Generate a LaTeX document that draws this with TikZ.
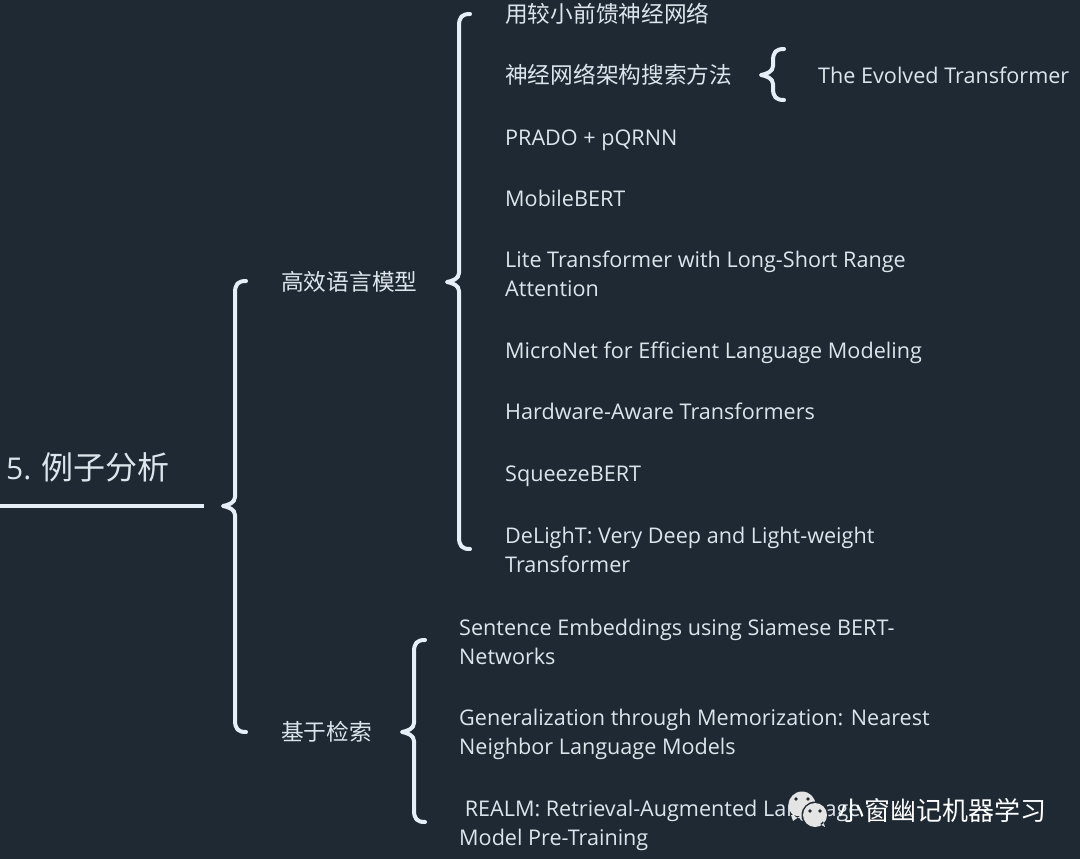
\documentclass[tikz,border=0pt]{standalone}
\usepackage{fontspec}
\setmainfont{Open Sans}
\newfontfamily\cjk{Noto Sans CJK SC}
\usetikzlibrary{calc}
\definecolor{cback}{HTML}{1F2933}
\definecolor{cline}{HTML}{E6EFF7}
\definecolor{ctext}{HTML}{DDE5EC}
\definecolor{cicon}{HTML}{E4E4E4}
\tikzset{
  item/.style={anchor=west, inner sep=0pt, text=ctext, align=left, font=\fontsize{21.6}{29}\selectfont},
  single/.style={item, text height=20pt, text depth=4pt},
  topic/.style={single, font=\fontsize{22.7}{29}\selectfont\cjk},
  curly/.style={line width=4pt, color=cline, line cap=round, line join=round},
}

\begin{document}
\begin{tikzpicture}[x=1pt, y=-1pt]
  \useasboundingbox (0, 0) rectangle (1080, 859);
  \fill [cback] (0, 0) rectangle (1080, 859);

  % root
  \node [item, font=\fontsize{30}{40}\selectfont] (root) at (6, 467) {5. {\fontsize{32}{40}\selectfont\cjk 例子分析}};
  \coordinate (rootl) at (0, 506);
  \coordinate (rootr) at (204, 506);
  \draw [line width=4pt, cline] (rootl) -- (rootr);

  % first level
  \node [topic] (lang) at (281, 282) {高效语言模型};
  \node [topic] (retr) at (281, 732) {基于检索};

  % language models
  \node [topic] (lsmall) at (505, 15) {用较小前馈神经网络};
  \node [topic] (lnas) at (505, 76) {神经网络架构搜索方法};
  \foreach \n/\y/\t in {prado/137/PRADO + pQRNN, mbert/198/MobileBERT, micro/350/MicroNet for Efficient Language Modeling, hat/411/Hardware-Aware Transformers, sbert/473/SqueezeBERT}
    \node [single] (\n) at (505, \y) {\t};
  \node [item] (lite) at (505, 273.5) {Lite Transformer with Long-Short Range\\Attention};
  \node [item] (delight) at (505, 549.5) {DeLighT: Very Deep and Light-weight\\Transformer};

  % evolved transformer
  \node [single] (evolved) at (818, 76) {The Evolved Transformer};

  % retrieval
  \node [item] (siam) at (459, 641.5) {Sentence Embeddings using Siamese BERT-\\Networks};
  \node [item] (gener) at (459, 734) {Generalization through Memorization: Nearest\\Neighbor Language Models};
  \node [item] (realm) at (459, 825) {\ REALM: Retrieval-Augmented Language\\Model Pre-Training};

  % braces
  \coordinate (main-t) at (246, 281);
  \coordinate (main-m) at (223, 506);
  \coordinate (main-b) at (246, 732);
  \coordinate (langs-t) at (470, 14);
  \coordinate (langs-m) at (447, 282);
  \coordinate (langs-b) at (470, 549);
  \coordinate (evo-t) at (784, 49);
  \coordinate (evo-m) at (761, 75);
  \coordinate (evo-b) at (784, 100);
  \coordinate (retrs-t) at (425, 640);
  \coordinate (retrs-m) at (402, 732);
  \coordinate (retrs-b) at (425, 822);
  \foreach \n in {main, langs, evo, retrs}
    \draw [curly] (\n-t) .. controls +(-8, 0) and +(0, -9) .. ++(-11, 12)
      -- ($(\n-m)+(12, -9)$) .. controls +(0, 6) and +(5, -1) .. (\n-m)
      .. controls +(5, 1) and +(0, -6) .. ++(12, 9)
      -- ($(\n-b)+(-11, -12)$) .. controls +(0, 9) and +(-8, 0) .. (\n-b);

  % watermark
  \fill [cicon] (802, 805) circle (13.5) (791, 815) -- (793, 821) -- (800, 816) -- cycle;
  \fill [cback] (815, 815) circle (13.5);
  \fill [cicon] (815, 815) circle (12) (820, 824) -- (825, 827) -- (823, 821) -- cycle;
  \foreach \x/\y in {796/799, 808/799, 810/811, 820/811}
    \fill [cback] (\x, \y) circle (1.8);
  \node [anchor=west, inner sep=0pt, text=white, font=\fontsize{26}{30}\selectfont\cjk] (mark) at (838, 811) {小窗幽记机器学习};
\end{tikzpicture}
\end{document}
